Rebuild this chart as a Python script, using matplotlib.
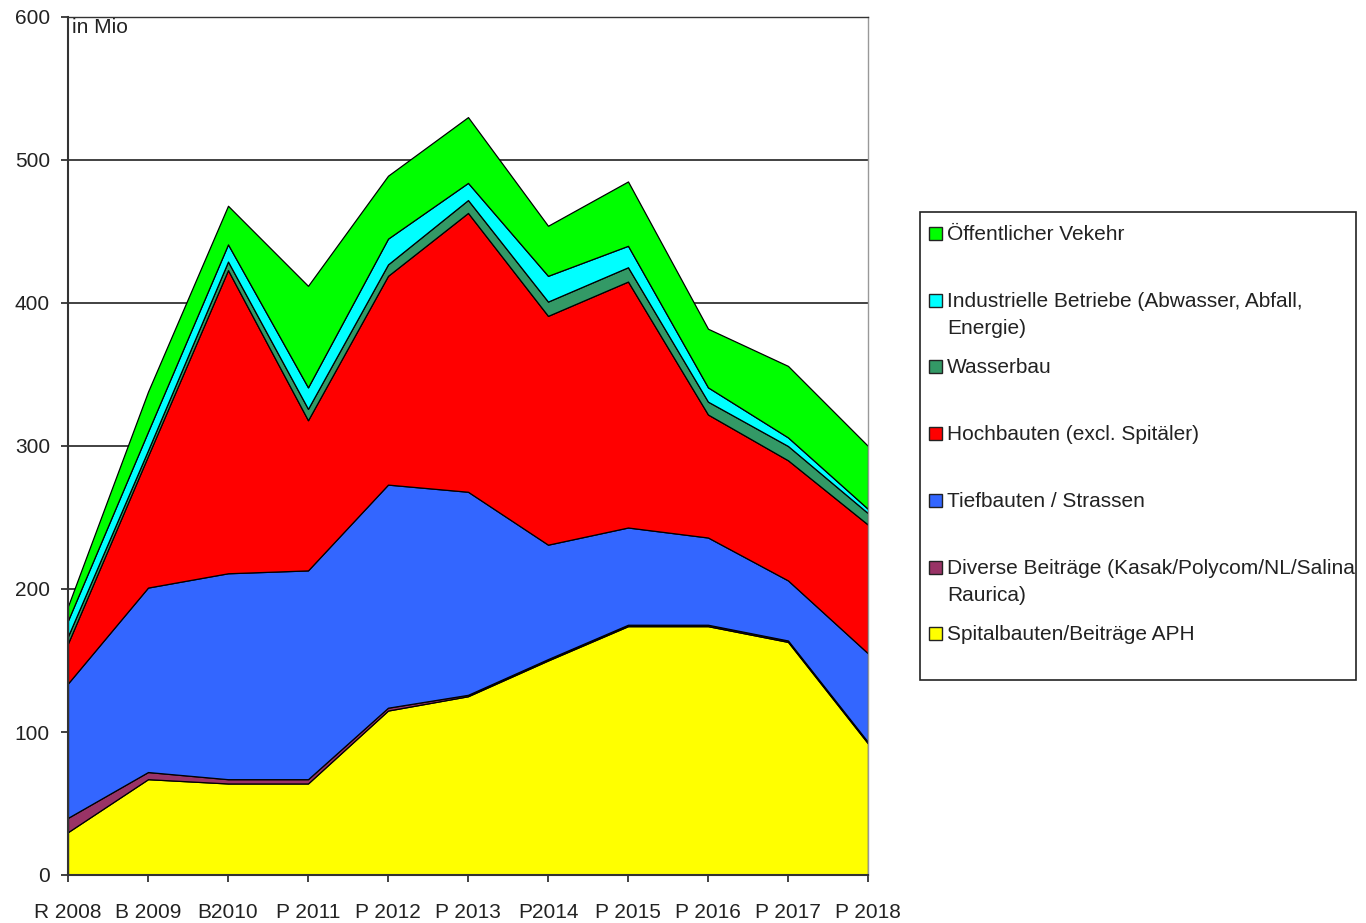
import matplotlib
matplotlib.use("Agg")
import matplotlib.pyplot as plt
from matplotlib.patches import Rectangle
import numpy as np

plt.rcParams['font.family'] = ['Liberation Sans', 'DejaVu Sans']
FS = 15

years = ["R 2008", "B 2009", "B2010", "P 2011", "P 2012", "P 2013",
         "P2014", "P 2015", "P 2016", "P 2017", "P 2018"]

spital   = [30, 67, 64, 64, 115, 125, 150, 174, 174, 163, 92]
diverse  = [10, 5, 3, 3, 2, 1, 1, 1, 1, 1, 1]
tiefbau  = [94, 129, 144, 146, 156, 142, 80, 68, 61, 42, 62]
hochbau  = [28, 92, 212, 105, 146, 195, 160, 172, 86, 84, 90]
wasser   = [5, 4, 6, 8, 8, 9, 10, 10, 9, 10, 8]
industr  = [11, 13, 12, 15, 18, 12, 18, 15, 10, 6, 3]
oev      = [10, 28, 27, 71, 44, 46, 35, 45, 41, 50, 44]

series_labels = [
    "Spitalbauten/Beiträge APH",
    "Diverse Beiträge (Kasak/Polycom/NL/Salina\nRaurica)",
    "Tiefbauten / Strassen",
    "Hochbauten (excl. Spitäler)",
    "Wasserbau",
    "Industrielle Betriebe (Abwasser, Abfall,\nEnergie)",
    "Öffentlicher Vekehr",
]
series_colors = ["#FFFF00", "#993366", "#3366FF", "#FF0000",
                 "#339966", "#00FFFF", "#00FF00"]
yticks = [0, 100, 200, 300, 400, 500, 600]

W, H = 1366, 923
fig = plt.figure(figsize=(W / 100, H / 100), dpi=100)
ax = fig.add_axes([68 / W, (H - 875) / H, 800 / W, 858 / H])

x = np.arange(len(years))
data = [spital, diverse, tiefbau, hochbau, wasser, industr, oev]

for yv in yticks[1:]:
    ax.axhline(yv, color="#333333", lw=1.3, zorder=0)

ax.stackplot(x, *data, colors=series_colors, edgecolor="black",
             linewidth=0.9, zorder=2)

ax.set_xlim(0, len(years) - 1)
ax.set_ylim(0, 600)
ax.set_xticks(x)
ax.set_xticklabels(years, fontsize=FS)
ax.set_yticks(yticks)
ax.set_yticklabels([str(v) for v in yticks], fontsize=FS)
ax.tick_params(axis="both", direction="out", length=5, width=1.3,
               color="#333333", labelcolor="#222222")
ax.tick_params(axis="x", pad=15)
ax.tick_params(axis="y", pad=8)

for s in ["left", "bottom"]:
    ax.spines[s].set_color("#333333")
    ax.spines[s].set_linewidth(1.5)
    ax.spines[s].set_zorder(5)
ax.spines["top"].set_color("#333333")
ax.spines["top"].set_linewidth(1.0)
ax.spines["right"].set_color("#999999")
ax.spines["right"].set_linewidth(1.0)

ax.text(0.005, 0.999, "in Mio", transform=ax.transAxes, fontsize=FS,
        va="top", ha="left", color="#222222")

# legend (manual, to reproduce the fixed spacing of the original)
lx0, ly0, lx1, ly1 = 920, 212, 1356, 680
fig.patches.append(Rectangle((lx0 / W, 1 - ly1 / H), (lx1 - lx0) / W,
                             (ly1 - ly0) / H, transform=fig.transFigure,
                             facecolor="white", edgecolor="#222222",
                             linewidth=1.2))
first_y = 233
step = 66.7
order = list(range(len(series_labels)))[::-1]
for i, idx in enumerate(order):
    yc = first_y + i * step
    fig.patches.append(Rectangle((929 / W, 1 - (yc + 7) / H), 13 / W, 13 / H,
                                 transform=fig.transFigure,
                                 facecolor=series_colors[idx],
                                 edgecolor="#222222", linewidth=1.0))
    fig.text(947 / W, 1 - (yc - 8) / H, series_labels[idx], fontsize=FS,
             va="top", ha="left", color="#222222", linespacing=1.55)

fig.savefig("out.png", dpi=100)
